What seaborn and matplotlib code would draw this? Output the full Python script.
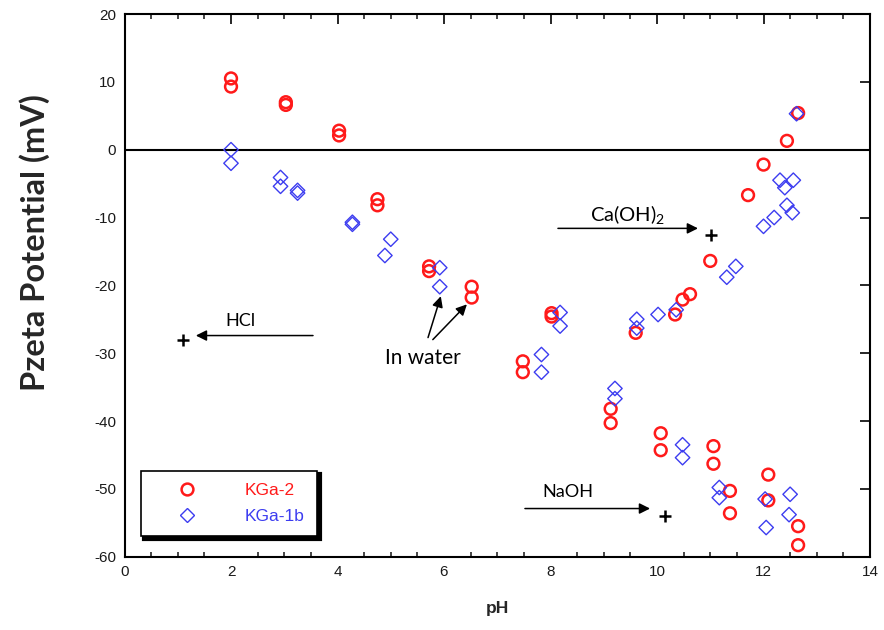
import matplotlib
matplotlib.use("Agg")
import matplotlib.pyplot as plt
from matplotlib.lines import Line2D
import seaborn as sns
import pandas as pd

# ---- data ----
kga2_ph = [2.0, 2.0, 3.03, 3.03, 4.03, 4.03, 4.75, 4.75, 5.72, 5.72, 6.52, 6.52,
           7.48, 7.48, 8.02, 8.02, 9.13, 9.13, 9.6, 10.07, 10.07, 10.34, 10.48, 10.62,
           11.0, 11.06, 11.06, 11.37, 11.37, 11.71, 12.0, 12.09, 12.09, 12.44,
           12.65, 12.65, 12.65]
kga2_zeta = [10.5, 9.3, 7.0, 6.6, 2.8, 2.1, -7.3, -8.2, -17.2, -17.9, -20.2, -21.8,
             -31.2, -32.8, -24.1, -24.6, -38.2, -40.3, -27.0, -41.8, -44.3, -24.3, -22.1, -21.3,
             -16.4, -43.7, -46.3, -50.3, -53.6, -6.7, -2.2, -47.9, -51.7, 1.3,
             5.4, -55.5, -58.3]

kga1b_ph = [2.0, 2.0, 2.93, 2.93, 3.25, 3.25, 4.28, 4.28, 5.0, 4.89, 5.92, 5.92,
            7.83, 7.83, 8.18, 8.18, 9.21, 9.21, 9.62, 9.62, 10.02, 10.36, 10.48, 10.48,
            11.17, 11.17, 11.31, 11.48, 12.0, 12.03, 12.05, 12.2, 12.31, 12.4,
            12.44, 12.54, 12.56, 12.48, 12.5, 12.62]
kga1b_zeta = [0.0, -2.0, -4.1, -5.4, -6.0, -6.4, -10.7, -11.0, -13.2, -15.6, -17.4, -20.2,
              -30.2, -32.8, -24.0, -26.0, -35.2, -36.7, -25.0, -26.3, -24.3, -23.6, -43.5, -45.4,
              -49.8, -51.3, -18.8, -17.2, -11.3, -51.5, -55.7, -10.0, -4.5, -5.6,
              -8.2, -9.3, -4.5, -53.8, -50.8, 5.3]

series_names = ["KGa-2", "KGa-1b"]
series_colors = ["#ff1a1a", "#3c3cf0"]

# reagent end points (plus markers) and annotation labels
reagent_labels = ["HCl", "In water", "Ca(OH)$_2$", "NaOH"]
plus_ph = [1.10, 11.01, 10.15]
plus_zeta = [-28.1, -12.6, -54.0]

x_ticks = [0, 2, 4, 6, 8, 10, 12, 14]
y_ticks = [20, 10, 0, -10, -20, -30, -40, -50, -60]

# ---- figure ----
sns.set_theme(style="white")
plt.rcParams["font.family"] = ["Liberation Sans", "DejaVu Sans"]
plt.rcParams["axes.unicode_minus"] = False
plt.rcParams["mathtext.fontset"] = "custom"
plt.rcParams["mathtext.rm"] = "Lato"
plt.rcParams["mathtext.it"] = "Lato:italic"

fig = plt.figure(figsize=(8.84, 6.30), dpi=100)
ax = fig.add_axes([124.5 / 884, 1 - 556.7 / 630, (870 - 124.5) / 884, (556.7 - 14) / 630])

df2 = pd.DataFrame({"pH": kga2_ph, "zeta": kga2_zeta})
df1 = pd.DataFrame({"pH": kga1b_ph, "zeta": kga1b_zeta})

ax.axhline(0, color="black", lw=1.5, zorder=1)

sns.scatterplot(data=df2, x="pH", y="zeta", ax=ax, marker="o", s=72,
                color=series_colors[0], edgecolor=series_colors[0], linewidth=1.8, zorder=3)
ax.collections[-1].set_facecolor("none")
ax.collections[-1].set_edgecolor(series_colors[0])
sns.scatterplot(data=df1, x="pH", y="zeta", ax=ax, marker="D", s=54,
                color=series_colors[1], edgecolor=series_colors[1], linewidth=1.0, zorder=3)
ax.collections[-1].set_facecolor("none")
ax.collections[-1].set_edgecolor(series_colors[1])

ax.plot(plus_ph, plus_zeta, linestyle="none", marker="+", color="black",
        markersize=8, markeredgewidth=1.8, zorder=4)

# annotations
afont = dict(family=["Lato", "DejaVu Sans"], color="black")
arrow = dict(arrowstyle="-|>", color="black", lw=1.1, mutation_scale=16, shrinkA=0, shrinkB=0)
ax.text(2.17, -25.3, reagent_labels[0], ha="center", va="center", fontsize=13, **afont)
ax.annotate("", xy=(1.34, -27.4), xytext=(3.54, -27.4), arrowprops=arrow)
ax.text(5.6, -30.7, reagent_labels[1], ha="center", va="center", fontsize=15, **afont)
ax.annotate("", xy=(5.94, -21.6), xytext=(5.70, -27.7), arrowprops=arrow)
ax.annotate("", xy=(6.43, -22.8), xytext=(5.79, -28.0), arrowprops=arrow)
ax.text(9.44, -9.5, reagent_labels[2], ha="center", va="center", fontsize=14.5, **afont)
ax.annotate("", xy=(10.77, -11.6), xytext=(8.14, -11.6), arrowprops=arrow)
ax.text(8.33, -50.5, reagent_labels[3], ha="center", va="center", fontsize=13, **afont)
ax.annotate("", xy=(9.87, -52.9), xytext=(7.52, -52.9), arrowprops=arrow)

# axes styling
ax.set_xlim(0, 14)
ax.set_ylim(-60, 20)
ax.set_xticks(x_ticks)
ax.set_xticks([v / 2 for v in range(0, 29)], minor=True)
ax.set_yticks(y_ticks)
ax.tick_params(axis="both", which="major", direction="in", length=7, width=1.4,
               top=True, right=True, labelsize=11, labelcolor="#1a1a1a", pad=6)
ax.tick_params(axis="x", which="minor", direction="in", length=3.6, width=1.2,
               top=True, bottom=True)
for sp in ax.spines.values():
    sp.set_linewidth(1.5)
    sp.set_color("black")

ax.set_xlabel("pH", fontsize=12.5, fontweight="bold", labelpad=16)
ax.set_ylabel("")
fig.text(35 / 884, 1 - 243 / 630, "Pzeta Potential (mV)", rotation=90, ha="center",
         va="center", fontsize=23.5, fontweight="bold", family=["Lato", "DejaVu Sans"])

# legend
handles = [Line2D([], [], linestyle="none", marker="o", markersize=8.5, markerfacecolor="none",
                  markeredgecolor=series_colors[0], markeredgewidth=1.8),
           Line2D([], [], linestyle="none", marker="D", markersize=7, markerfacecolor="none",
                  markeredgecolor=series_colors[1], markeredgewidth=1.0)]
leg = ax.legend(handles, series_names, loc="lower left", bbox_to_anchor=(0.022, 0.038),
                borderaxespad=0, frameon=True, fancybox=False, edgecolor="black",
                shadow={"color": "black", "alpha": 1, "linewidth": 3},
                fontsize=12.5, handlelength=3.9, handletextpad=1.4, borderpad=0.7,
                labelspacing=0.6, labelcolor=series_colors)
leg.get_frame().set_linewidth(1.2)

fig.savefig("out.png", dpi=100)
